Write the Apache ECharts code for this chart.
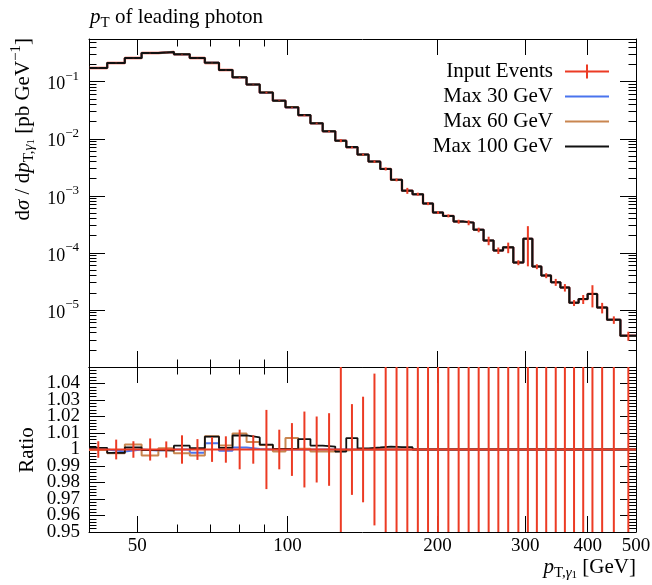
<!DOCTYPE html>
<html><head><meta charset="utf-8">
<script src="https://cdn.jsdelivr.net/npm/echarts@6/dist/echarts.min.js"></script>
<style>html,body{margin:0;padding:0;background:#fff}#c{width:652px;height:585px}</style>
</head><body><div id="c"></div>
<script>
// ---- data ----
const binEdges = [40, 43.5, 47.2, 51.0, 55.1, 59.2, 63.7, 68.3, 72.9, 77.6,
  82.8, 88.0, 93.5, 99.1, 105.1, 111.2, 117.7, 124.7, 131.2, 138.2,
  145.4, 153.5, 161.3, 169.7, 178.2, 187.0, 195.8, 205.1, 215.4, 225.5,
  236.2, 247.4, 259.0, 270.6, 283.7, 297.2, 309.8, 322.9, 337.7, 352.6,
  367.5, 383.7, 400.0, 417.8, 437.5, 465.2, 500];
const inputValues = [0.174, 0.213, 0.260, 0.318, 0.331, 0.302, 0.260, 0.213, 0.160, 0.119,
  0.089, 0.0642, 0.0465, 0.0356, 0.0258, 0.0187, 0.0135, 0.00926, 0.0071, 0.00527,
  0.00397, 0.00296, 0.0019, 0.00123, 0.00107, 0.00073, 0.000508, 0.000445, 0.000353, 0.000339,
  0.000253, 0.000164, 0.00011, 0.000125, 0.0000676, 0.000176, 0.0000575, 0.00004, 0.0000307, 0.0000247,
  0.0000133, 0.0000155, 0.0000191, 0.000011, 0.00000671, 0.00000352];
const inputRelErr = [0.005, 0.006, 0.005, 0.0067, 0.0049, 0.0086, 0.0063, 0.0075, 0.008, 0.012,
  0.0086, 0.024, 0.012, 0.016, 0.023, 0.02, 0.022, 0.06, 0.0275, 0.032,
  0.046, 0.06, 0.055, 0.12, 0.06, 0.06, 0.055, 0.06, 0.08, 0.10,
  0.093, 0.17, 0.13, 0.21, 0.10, 0.67, 0.10, 0.10, 0.14, 0.15,
  0.12, 0.18, 0.42, 0.21, 0.15, 0.18];
const ratioMax30 = [1.0, 0.9988, 1.0, 0.9994, 1.0, 1.0, 0.998, 1.0038, 0.9992, 1.0012,
  1.0003, 1, 1, 1, 1, 1, 1, 1, 1, 1,
  1, 1, 1, 1, 1, 1, 1, 1, 1, 1,
  1, 1, 1, 1, 1, 1, 1, 1, 1, 1,
  1, 1, 1, 1, 1, 1];
const ratioMax60 = [0.9997, 0.9978, 1.003, 0.9963, 1.0008, 0.9977, 0.9964, 1.008, 1.0025, 1.0097,
  1.0046, 1.0027, 0.9988, 1.007, 1.0004, 0.9988, 0.9988, 0.9994, 1, 1,
  1, 1, 1, 1, 1, 1, 1, 1, 1, 1,
  1, 1, 1, 1, 1, 1, 1, 1, 1, 1,
  1, 1, 1, 1, 1, 1];
const ratioMax100 = [1.001, 0.998, 1.0012, 0.9997, 0.9994, 1.0023, 1.0008, 1.0078, 1.001, 1.0085,
  1.0073, 1.0029, 1.0004, 1.0003, 1.0063, 1.0024, 1.0018, 0.9988, 1.0069, 1.0006,
  1.0012, 1.0018, 1.0014, 1.0014, 1, 1, 1, 1, 1, 1,
  1, 1, 1, 1, 1, 1, 1, 1, 1, 1,
  1, 1, 1, 1, 1, 1];
const seriesNames = ['Input Events', 'Max 30 GeV', 'Max 60 GeV', 'Max 100 GeV'];
const xMajorTicks = [50, 100, 200, 300, 400, 500];
const xMinorTicks = [60, 70, 80, 90];
const xTickLabels = [50, 100, 200, 300, 400, 500];
const yMajorTicks = [1e-6, 1e-5, 1e-4, 1e-3, 1e-2, 1e-1];
const yTickLabels = [1e-5, 1e-4, 1e-3, 1e-2, 1e-1];
const yMinorMantissas = [2, 3, 4, 5, 6, 7, 8, 9];
const ratioTickLabels = [0.95, 0.96, 0.97, 0.98, 0.99, 1, 1.01, 1.02, 1.03, 1.04];

// ---- styles ----
const FONT = '"Liberation Serif", "Times New Roman", serif';
const RED = '#ec3b24', BLUE = '#4a74ee', ORANGE = '#c98650', BLACK = '#111111';
const Y_MIN = 1e-6, Y_MAX = 0.56;

const yMinorTicks = [];
yMajorTicks.forEach(d => yMinorMantissas.forEach(m => { const v = +(m * d).toPrecision(3); if (v < Y_MAX) yMinorTicks.push(v); }));

function stepData(values) {
  const d = [];
  for (let i = 0; i < values.length; i++) {
    d.push([binEdges[i], values[i]]);
    d.push([binEdges[i + 1], values[i]]);
  }
  return d;
}
const mc30 = inputValues.map((v, i) => v * ratioMax30[i]);
const mc60 = inputValues.map((v, i) => v * ratioMax60[i]);
const mc100 = inputValues.map((v, i) => v * ratioMax100[i]);
const refRatio = inputValues.map(v => v / v);

function lineSeries(name, values, color, width, ax, z) {
  return { name, type: 'line', data: stepData(values), xAxisIndex: ax, yAxisIndex: ax,
    showSymbol: false, symbol: 'none', color, lineStyle: { color, width }, itemStyle: { color },
    animation: false, silent: true, z, clip: true };
}
function errSeries(name, ax, data) {
  return { type: 'custom', name, xAxisIndex: ax, yAxisIndex: ax, data, clip: true, silent: true, z: 10,
    animation: false, encode: { x: 0, y: [1, 2] },
    renderItem(params, api) {
      const cs = params.coordSys;
      const x = api.value(0);
      const a = api.coord([x, api.value(1)]);
      const b = api.coord([x, api.value(2)]);
      const top = cs.y, bot = cs.y + cs.height;
      const y1 = Math.min(Math.max(a[1], top), bot), y2 = Math.min(Math.max(b[1], top), bot);
      return { type: 'line', shape: { x1: a[0], y1, x2: a[0], y2 }, style: { stroke: RED, lineWidth: 2 } };
    } };
}
const centers = inputValues.map((v, i) => (binEdges[i] + binEdges[i + 1]) / 2);
const errTop = inputValues.map((v, i) => [centers[i], v * (1 - inputRelErr[i]), v * (1 + inputRelErr[i])]);
const errRatio = inputValues.map((v, i) => [centers[i], 1 - inputRelErr[i], 1 + inputRelErr[i]]);

const tickLine = { color: '#000', width: 1 };
const MAJ = 16, MIN = 7.5;
function xAx(grid, pos, ticks, len, showLine, extra) {
  return Object.assign({ type: 'log', logBase: 10, gridIndex: grid, position: pos, min: 40, max: 500,
    axisLine: { show: showLine, lineStyle: tickLine },
    axisTick: { show: true, inside: true, length: len, customValues: ticks, lineStyle: tickLine },
    axisLabel: { show: false }, splitLine: { show: false }, minorTick: { show: false }, minorSplitLine: { show: false } }, extra || {});
}
function yLog(pos, ticks, len, showLine, extra) {
  return Object.assign({ type: 'log', logBase: 10, gridIndex: 0, position: pos, min: Y_MIN, max: Y_MAX,
    axisLine: { show: showLine, lineStyle: tickLine },
    axisTick: { show: true, inside: true, length: len, customValues: ticks, lineStyle: tickLine },
    axisLabel: { show: false }, splitLine: { show: false }, minorTick: { show: false }, minorSplitLine: { show: false } }, extra || {});
}
function yRatio(pos, withTicks, labelValues) {
  return { type: 'value', gridIndex: 1, position: pos, min: 0.95, max: 1.05, interval: 0.01,
    axisLine: { show: withTicks, lineStyle: tickLine },
    axisTick: { show: withTicks, inside: true, length: MAJ, lineStyle: tickLine },
    minorTick: { show: withTicks, splitNumber: 5, length: MIN, lineStyle: tickLine },
    splitLine: { show: false }, minorSplitLine: { show: false },
    axisLabel: labelValues ? { show: true, customValues: labelValues, showMinLabel: true, showMaxLabel: true,
      hideOverlap: false, margin: 9,
      formatter: v => String(parseFloat((+v).toFixed(2))), fontFamily: FONT, fontSize: 19, color: '#000' } : { show: false } };
}
const ratioLabelsA = ratioTickLabels.filter((v, i) => i % 2 === 0);
const ratioLabelsB = ratioTickLabels.filter((v, i) => i % 2 === 1);

const xAxes = [
  xAx(0, 'bottom', xMajorTicks, MAJ, true),
  xAx(0, 'bottom', xMinorTicks, MIN, false),
  xAx(0, 'top', xMajorTicks, MAJ, true),
  xAx(0, 'top', xMinorTicks, MIN, false),
  xAx(1, 'bottom', xMajorTicks, MAJ, true, { axisLabel: { show: true, customValues: xTickLabels,
    formatter: v => String(Math.round(v)), fontFamily: FONT, fontSize: 19, color: '#000', margin: 5 } }),
  xAx(1, 'bottom', xMinorTicks, MIN, false),
  xAx(1, 'top', xMajorTicks, MAJ, true),
  xAx(1, 'top', xMinorTicks, MIN, false)
];
const yAxes = [
  yLog('left', yMajorTicks, MAJ, true, { axisLabel: { show: true, customValues: yTickLabels, margin: 10,
    formatter: v => '{b|10}{sup|\u2212' + Math.round(-Math.log10(v)) + '}',
    rich: { b: { fontFamily: FONT, fontSize: 18, color: '#000', verticalAlign: 'bottom', lineHeight: 24 },
            sup: { fontFamily: FONT, fontSize: 13, color: '#000', verticalAlign: 'top', lineHeight: 24 } } } }),
  yLog('left', yMinorTicks, MIN, false),
  yLog('right', yMajorTicks, MAJ, true),
  yLog('right', yMinorTicks, MIN, false),
  yRatio('left', true, ratioLabelsA),
  yRatio('right', true, null),
  yRatio('left', false, ratioLabelsB)
];

const RICH = {
  n: { fontFamily: FONT, fontSize: 21, fill: '#000', verticalAlign: 'middle', lineHeight: 28 },
  i: { fontFamily: FONT, fontSize: 21, fontStyle: 'italic', fill: '#000', verticalAlign: 'middle', lineHeight: 28 },
  sub: { fontFamily: FONT, fontSize: 15, fill: '#000', verticalAlign: 'bottom', lineHeight: 28 },
  si: { fontFamily: FONT, fontSize: 15, fontStyle: 'italic', fill: '#000', verticalAlign: 'bottom', lineHeight: 28 },
  ss: { fontFamily: FONT, fontSize: 11, fill: '#000', verticalAlign: 'bottom', lineHeight: 28 },
  sup: { fontFamily: FONT, fontSize: 15, fill: '#000', verticalAlign: 'top', lineHeight: 28 }
};
const LINE_ICON = 'path://M0,0L0,0M0,6h44v2H0zM44,14L44,14';
const ERR_ICON = 'path://M0,6h44v2H0z M21,0h2v14h-2z';

const chart = echarts.init(document.getElementById('c'), null, { renderer: 'canvas' });
chart.setOption({
  animation: false,
  backgroundColor: '#fff',
  grid: [
    { left: 89, top: 39, width: 547, height: 328, containLabel: false, outerBoundsMode: 'none' },
    { left: 89, top: 367, width: 547, height: 165, containLabel: false, outerBoundsMode: 'none' }
  ],
  xAxis: xAxes,
  yAxis: yAxes,
  legend: {
    data: [
      { name: seriesNames[0], icon: ERR_ICON, itemStyle: { color: RED } },
      { name: seriesNames[1], icon: LINE_ICON, itemStyle: { color: BLUE } },
      { name: seriesNames[2], icon: LINE_ICON, itemStyle: { color: ORANGE } },
      { name: seriesNames[3], icon: LINE_ICON, itemStyle: { color: BLACK } }
    ],
    orient: 'vertical', align: 'right', right: 43, top: 61, itemWidth: 44, itemHeight: 14, itemGap: 4,
    selectedMode: false, padding: 0,
    textStyle: { fontFamily: FONT, fontSize: 21, color: '#000', padding: [0, 7, 0, 0] }
  },
  graphic: [
    { type: 'text', x: 90, y: 3, silent: true,
      style: { text: '{i|p}{sub|T}{n| of leading photon}', rich: RICH, align: 'left', verticalAlign: 'top', font: '21px ' + FONT } },
    { type: 'text', x: 636, y: 553, silent: true,
      style: { text: '{i|p}{sub|T,}{si|\u03b3}{ss|1}{n| [GeV]}', rich: RICH, align: 'right', verticalAlign: 'top', font: '21px ' + FONT } },
    { type: 'text', x: 23, y: 38, rotation: Math.PI / 2, silent: true,
      style: { text: '{n|d}{i|\u03c3}{n| / d}{i|p}{sub|T,}{si|\u03b3}{ss|1}{n| [pb GeV}{sup|\u22121}{n|]}', rich: RICH,
        align: 'right', verticalAlign: 'middle', font: '21px ' + FONT } },
    { type: 'text', x: 27, y: 450, rotation: Math.PI / 2, silent: true,
      style: { text: 'Ratio', fill: '#000', align: 'center', verticalAlign: 'middle', font: '21px ' + FONT } }
  ],
  series: [
    lineSeries(seriesNames[0], inputValues, RED, 2.4, 0, 2),
    lineSeries(seriesNames[1], mc30, BLUE, 2, 0, 3),
    lineSeries(seriesNames[2], mc60, ORANGE, 2, 0, 4),
    lineSeries(seriesNames[3], mc100, BLACK, 2, 0, 5),
    errSeries('Input Events errors', 0, errTop),
    lineSeries(seriesNames[1], ratioMax30, BLUE, 2, 4, 3),
    lineSeries(seriesNames[2], ratioMax60, ORANGE, 2, 4, 4),
    lineSeries(seriesNames[3], ratioMax100, BLACK, 1.8, 4, 5),
    lineSeries(seriesNames[0], refRatio, RED, 2, 4, 6),
    errSeries('Input Events ratio errors', 4, errRatio)
  ]
});
</script></body></html>
